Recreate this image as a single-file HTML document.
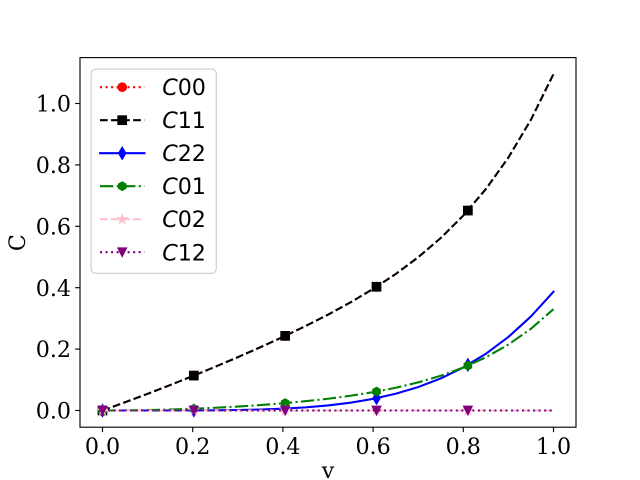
<!DOCTYPE html>
<html>
<head>
<meta charset="utf-8">
<style>
html,body{margin:0;padding:0;background:#fff;}
svg{display:block;}
.tick{font-family:"DejaVu Serif","Liberation Serif",serif;font-size:22.2px;fill:#000;}
.leg{font-family:"DejaVu Sans","Liberation Sans",sans-serif;font-size:22.2px;fill:#000;}
</style>
</head>
<body>
<svg width="640" height="480" viewBox="0 0 640 480" xmlns="http://www.w3.org/2000/svg">
<defs>
  <circle id="mo" r="4.17" fill="#ff0000" stroke="#ff0000" stroke-width="1.39"/>
  <rect id="ms" x="-4.17" y="-4.17" width="8.33" height="8.33" fill="#000" stroke="#000" stroke-width="1.39"/>
  <polygon id="md" points="0,-5.89 3.53,0 0,5.89 -3.53,0" fill="#0000ff" stroke="#0000ff" stroke-width="1.39"/>
  <polygon id="mh" points="0,-4.17 3.61,-2.08 3.61,2.08 0,4.17 -3.61,2.08 -3.61,-2.08" fill="#008000" stroke="#008000" stroke-width="1.39"/>
  <polygon id="mst" points="0,-4.17 -0.935,-1.287 -3.97,-1.29 -1.512,0.491 -2.45,3.37 0,1.59 2.45,3.37 1.512,0.491 3.97,-1.29 0.935,-1.287" fill="#ffc0cb" stroke="#ffc0cb" stroke-width="1.39"/>
  <polygon id="mv" points="0,4.17 -4.17,-4.17 4.17,-4.17" fill="#800080" stroke="#800080" stroke-width="1.39"/>
</defs>

<rect x="0" y="0" width="640" height="480" fill="#fff"/>

<!-- C00 (same as C11) red dotted -->
<polyline fill="none" stroke="#ff0000" stroke-width="2.08" stroke-dasharray="2.08 3.44" stroke-linejoin="round"
 points="102.5,410.5 125.05,402.28 147.6,393.8 170.15,385.06 192.7,376.05 215.25,366.76 237.8,357.18 260.35,347.25 282.9,336.93 305.45,326.11 328,314.65 350.55,302.34 373.1,288.92 395.65,274.05 418.2,257.26 440.75,238 463.3,215.55 485.85,189.07 508.4,157.52 530.95,119.65 553.5,74.03"/>
<use href="#mo" x="102.5" y="410.5"/><use href="#mo" x="193.84" y="375.58"/><use href="#mo" x="285.18" y="335.86"/><use href="#mo" x="376.52" y="286.77"/><use href="#mo" x="467.87" y="210.55"/>

<!-- C11 black dashed -->
<polyline fill="none" stroke="#000" stroke-width="2.08" stroke-dasharray="7.71 3.33" stroke-linejoin="round"
 points="102.5,410.5 125.05,402.28 147.6,393.8 170.15,385.06 192.7,376.05 215.25,366.76 237.8,357.18 260.35,347.25 282.9,336.93 305.45,326.11 328,314.65 350.55,302.34 373.1,288.92 395.65,274.05 418.2,257.26 440.75,238 463.3,215.55 485.85,189.07 508.4,157.52 530.95,119.65 553.5,74.03"/>
<use href="#ms" x="102.5" y="410.5"/><use href="#ms" x="193.84" y="375.58"/><use href="#ms" x="285.18" y="335.86"/><use href="#ms" x="376.52" y="286.77"/><use href="#ms" x="467.87" y="210.55"/>

<!-- C22 blue solid -->
<polyline fill="none" stroke="#0000ff" stroke-width="2.08" stroke-linecap="square" stroke-linejoin="round"
 points="102.5,410.5 147.6,410.5 170.15,410.48 192.7,410.42 215.25,410.28 237.8,410 260.35,409.5 282.9,408.66 305.45,407.36 328,405.43 350.55,402.67 373.1,398.87 395.65,393.76 418.2,387.06 440.75,378.41 463.3,367.45 485.85,353.78 508.4,336.94 530.95,316.42 553.5,291.69"/>
<use href="#md" x="102.5" y="410.5"/><use href="#md" x="193.84" y="410.4"/><use href="#md" x="285.18" y="408.55"/><use href="#md" x="376.52" y="398.19"/><use href="#md" x="467.87" y="364.92"/>

<!-- C01 green dashdot -->
<polyline fill="none" stroke="#008000" stroke-width="2.08" stroke-dasharray="13.33 3.33 2.08 3.33" stroke-linejoin="round"
 points="102.5,410.5 125.05,410.39 147.6,410.07 170.15,409.52 192.7,408.76 215.25,407.77 237.8,406.55 260.35,405.07 282.9,403.31 305.45,401.22 328,398.74 350.55,395.76 373.1,392.16 395.65,387.78 418.2,382.41 440.75,375.77 463.3,367.53 485.85,357.29 508.4,344.56 530.95,328.76 553.5,309.19"/>
<use href="#mh" x="102.5" y="410.5"/><use href="#mh" x="193.84" y="408.72"/><use href="#mh" x="285.18" y="403.12"/><use href="#mh" x="376.52" y="391.55"/><use href="#mh" x="467.87" y="365.63"/>

<!-- C02 pink dashed -->
<line x1="102.5" y1="410.5" x2="553.5" y2="410.5" stroke="#ffc0cb" stroke-width="2.08" stroke-dasharray="7.71 3.33"/>
<use href="#mst" x="102.5" y="410.5"/><use href="#mst" x="193.84" y="410.5"/><use href="#mst" x="285.18" y="410.5"/><use href="#mst" x="376.52" y="410.5"/><use href="#mst" x="467.87" y="410.5"/>

<!-- C12 purple dotted -->
<line x1="102.5" y1="410.5" x2="553.5" y2="410.5" stroke="#800080" stroke-width="2.08" stroke-dasharray="2.08 3.44"/>
<use href="#mv" x="102.5" y="410.5"/><use href="#mv" x="193.84" y="410.5"/><use href="#mv" x="285.18" y="410.5"/><use href="#mv" x="376.52" y="410.5"/><use href="#mv" x="467.87" y="410.5"/>

<!-- axes frame -->
<rect x="80" y="57.6" width="496" height="369.6" fill="none" stroke="#000" stroke-width="1.11"/>

<!-- ticks -->
<g stroke="#000" stroke-width="1.11">
  <line x1="102.5" y1="427.2" x2="102.5" y2="432.1"/>
  <line x1="192.7" y1="427.2" x2="192.7" y2="432.1"/>
  <line x1="282.9" y1="427.2" x2="282.9" y2="432.1"/>
  <line x1="373.1" y1="427.2" x2="373.1" y2="432.1"/>
  <line x1="463.3" y1="427.2" x2="463.3" y2="432.1"/>
  <line x1="553.5" y1="427.2" x2="553.5" y2="432.1"/>
  <line x1="75.1" y1="410.5" x2="80" y2="410.5"/>
  <line x1="75.1" y1="349.1" x2="80" y2="349.1"/>
  <line x1="75.1" y1="287.7" x2="80" y2="287.7"/>
  <line x1="75.1" y1="226.3" x2="80" y2="226.3"/>
  <line x1="75.1" y1="164.9" x2="80" y2="164.9"/>
  <line x1="75.1" y1="103.5" x2="80" y2="103.5"/>
</g>
<g class="tick" text-anchor="middle">
  <text x="102.5" y="454">0.0</text>
  <text x="192.7" y="454">0.2</text>
  <text x="282.9" y="454">0.4</text>
  <text x="373.1" y="454">0.6</text>
  <text x="463.3" y="454">0.8</text>
  <text x="553.5" y="454">1.0</text>
</g>
<g class="tick" text-anchor="end">
  <text x="71" y="418.6">0.0</text>
  <text x="71" y="357.2">0.2</text>
  <text x="71" y="295.8">0.4</text>
  <text x="71" y="234.4">0.6</text>
  <text x="71" y="173">0.8</text>
  <text x="71" y="111.6">1.0</text>
</g>
<text class="tick" x="328" y="478" text-anchor="middle">v</text>
<text class="tick" transform="translate(25,242.6) rotate(-90)" text-anchor="middle">C</text>

<!-- legend -->
<rect x="91.1" y="69.1" width="125.2" height="204.2" rx="4.4" ry="4.4" fill="#fff" fill-opacity="0.8" stroke="#cccccc" stroke-width="1.1"/>
<line x1="100" y1="87.2" x2="144.4" y2="87.2" stroke="#ff0000" stroke-width="2.08" stroke-dasharray="2.08 3.44"/>
<use href="#mo" x="122.2" y="87.2"/>
<line x1="100" y1="120.2" x2="144.4" y2="120.2" stroke="#000" stroke-width="2.08" stroke-dasharray="7.71 3.33"/>
<use href="#ms" x="122.2" y="120.2"/>
<line x1="100" y1="153.2" x2="144.4" y2="153.2" stroke="#0000ff" stroke-width="2.08" stroke-linecap="square"/>
<use href="#md" x="122.2" y="153.2"/>
<line x1="100" y1="186.2" x2="144.4" y2="186.2" stroke="#008000" stroke-width="2.08" stroke-dasharray="13.33 3.33 2.08 3.33"/>
<use href="#mh" x="122.2" y="186.2"/>
<line x1="100" y1="219.2" x2="144.4" y2="219.2" stroke="#ffc0cb" stroke-width="2.08" stroke-dasharray="7.71 3.33"/>
<use href="#mst" x="122.2" y="219.2"/>
<line x1="100" y1="252.2" x2="144.4" y2="252.2" stroke="#800080" stroke-width="2.08" stroke-dasharray="2.08 3.44"/>
<use href="#mv" x="122.2" y="252.2"/>
<g class="leg">
  <text x="162.2" y="95.2"><tspan font-style="italic">C</tspan>00</text>
  <text x="162.2" y="128.2"><tspan font-style="italic">C</tspan>11</text>
  <text x="162.2" y="161.2"><tspan font-style="italic">C</tspan>22</text>
  <text x="162.2" y="194.2"><tspan font-style="italic">C</tspan>01</text>
  <text x="162.2" y="227.2"><tspan font-style="italic">C</tspan>02</text>
  <text x="162.2" y="260.3"><tspan font-style="italic">C</tspan>12</text>
</g>
</svg>
</body>
</html>
